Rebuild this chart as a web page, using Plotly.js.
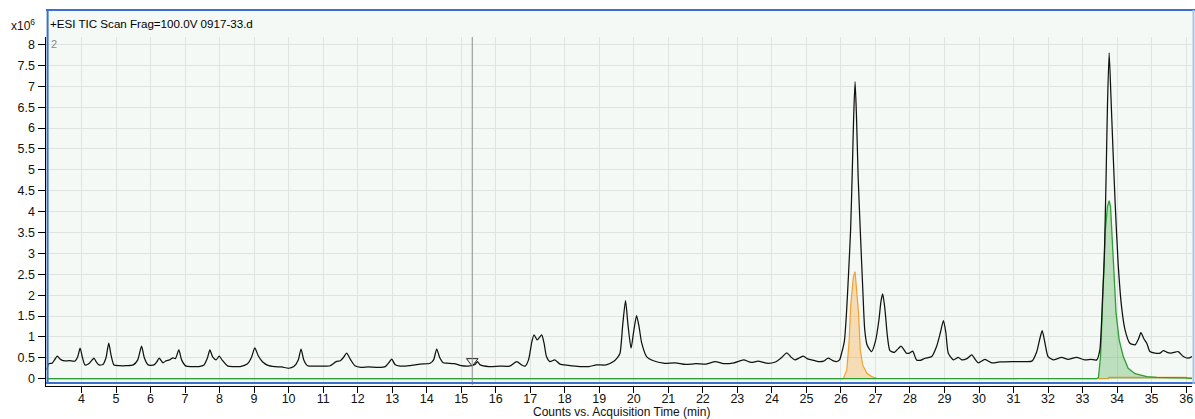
<!DOCTYPE html>
<html>
<head>
<meta charset="utf-8">
<script src="https://cdn.plot.ly/plotly-3.0.1.min.js"></script>
<style>html,body{margin:0;padding:0;background:#fff;}#chart{width:1195px;height:419px;}</style>
</head>
<body>
<div id="chart"></div>
<script>
// ---- data (counts in units of 10^6) ----
const ticTime = [3.00,3.05,3.15,3.22,3.30,3.38,3.47,3.65,3.81,3.89,3.96,4.03,4.10,4.20,4.30,4.36,4.43,4.51,4.62,4.71,4.79,4.86,4.94,5.10,5.30,5.50,5.63,5.74,5.82,5.93,6.10,6.18,6.25,6.36,6.45,6.55,6.65,6.72,6.82,6.90,7.03,7.20,7.40,7.55,7.65,7.72,7.80,7.90,7.99,8.08,8.24,8.40,8.60,8.80,8.92,9.02,9.12,9.25,9.40,9.60,9.80,10.00,10.15,10.28,10.36,10.44,10.55,10.80,11.00,11.20,11.38,11.50,11.60,11.68,11.80,11.92,12.10,12.30,12.60,12.80,12.92,12.99,13.08,13.23,13.50,13.81,14.10,14.20,14.29,14.38,14.48,14.58,14.80,15.00,15.20,15.40,15.47,15.55,15.80,16.12,16.40,16.61,16.75,16.85,16.95,17.05,17.11,17.20,17.33,17.40,17.47,17.57,17.71,17.86,18.10,18.44,18.70,18.92,19.20,19.41,19.52,19.60,19.68,19.76,19.83,19.92,20.00,20.08,20.15,20.23,20.37,20.57,20.86,21.20,21.50,21.80,22.10,22.36,22.60,22.90,23.18,23.40,23.60,23.85,24.10,24.30,24.43,24.55,24.67,24.80,24.91,25.02,25.15,25.34,25.50,25.63,25.75,25.87,25.96,26.02,26.10,26.16,26.22,26.28,26.33,26.37,26.41,26.45,26.50,26.56,26.63,26.69,26.76,26.89,27.00,27.10,27.16,27.21,27.27,27.35,27.42,27.55,27.66,27.74,27.82,27.90,28.00,28.08,28.19,28.30,28.44,28.63,28.77,28.88,28.97,29.04,29.11,29.26,29.40,29.50,29.65,29.79,29.90,29.98,30.17,30.37,30.60,30.95,31.30,31.53,31.67,31.76,31.83,31.90,32.00,32.15,32.39,32.58,32.82,33.06,33.25,33.41,33.50,33.58,33.63,33.68,33.72,33.77,33.82,33.88,33.94,34.03,34.13,34.23,34.37,34.52,34.62,34.69,34.78,34.86,34.95,35.10,35.24,35.34,35.45,35.53,35.65,35.77,35.92,36.06,36.17];
const ticCounts = [0.22,0.36,0.37,0.45,0.54,0.47,0.43,0.43,0.42,0.52,0.73,0.50,0.33,0.35,0.44,0.49,0.40,0.33,0.34,0.50,0.85,0.55,0.33,0.31,0.31,0.33,0.45,0.78,0.50,0.33,0.33,0.40,0.49,0.38,0.43,0.45,0.50,0.48,0.69,0.45,0.30,0.29,0.29,0.33,0.50,0.69,0.52,0.45,0.54,0.44,0.30,0.29,0.29,0.35,0.50,0.74,0.55,0.40,0.32,0.29,0.28,0.25,0.29,0.45,0.71,0.45,0.31,0.30,0.30,0.31,0.41,0.43,0.52,0.61,0.45,0.31,0.27,0.28,0.27,0.29,0.40,0.47,0.34,0.30,0.31,0.35,0.37,0.45,0.71,0.50,0.38,0.37,0.36,0.31,0.30,0.34,0.41,0.33,0.29,0.30,0.30,0.41,0.33,0.30,0.45,0.90,1.05,0.93,1.05,0.85,0.53,0.41,0.45,0.35,0.32,0.29,0.29,0.33,0.33,0.41,0.50,0.61,1.30,1.87,1.30,0.73,1.15,1.51,1.25,0.85,0.53,0.43,0.37,0.38,0.34,0.36,0.35,0.41,0.36,0.38,0.45,0.39,0.42,0.37,0.40,0.52,0.62,0.52,0.45,0.50,0.54,0.48,0.45,0.41,0.42,0.49,0.44,0.41,0.45,0.61,0.90,1.56,2.50,3.56,5.00,6.30,7.11,6.30,4.80,3.56,2.20,1.17,0.80,0.65,0.90,1.40,1.85,2.03,1.70,0.99,0.67,0.63,0.72,0.78,0.70,0.61,0.62,0.66,0.45,0.44,0.49,0.53,0.77,1.10,1.39,1.10,0.61,0.45,0.51,0.45,0.48,0.57,0.45,0.38,0.46,0.38,0.40,0.41,0.41,0.42,0.64,0.95,1.15,0.90,0.53,0.45,0.51,0.46,0.51,0.45,0.46,0.45,0.69,1.96,2.92,4.76,6.50,7.80,6.80,5.50,4.28,2.76,1.72,1.17,0.85,0.81,0.95,1.10,0.95,0.85,0.65,0.61,0.61,0.67,0.63,0.61,0.63,0.65,0.53,0.49,0.53];

const orangeTime = [3.00,26.07,26.17,26.24,26.28,26.36,26.41,26.46,26.51,26.56,26.63,26.75,26.89,27.04,33.75,33.76,36.00,36.01,36.17];
const orangeCounts = [0,0,0.21,0.93,1.72,2.44,2.56,2.10,1.57,0.69,0.33,0.13,0.05,0.01,0,0.03,0.03,0,0];

const greenTime = [3.00,33.40,33.46,33.52,33.59,33.66,33.72,33.77,33.81,33.89,33.97,34.06,34.18,34.32,34.52,34.86,35.15,36.02,36.17];
const greenCounts = [0,0,0.03,0.53,2.04,3.56,4.12,4.26,4.12,2.76,1.57,0.93,0.53,0.25,0.12,0.05,0.03,0.02,0.01];

const cursorTime = [15.32];
const cursorCounts = [0.42];

const xTickVals = [4,5,6,7,8,9,10,11,12,13,14,15,16,17,18,19,20,21,22,23,24,25,26,27,28,29,30,31,32,33,34,35,36];
const yTickVals = [0,0.5,1,1.5,2,2.5,3,3.5,4,4.5,5,5.5,6,6.5,7,7.5,8];
const yTickText = ['0','0.5','1','1.5','2','2.5','3','3.5','4','4.5','5','5.5','6','6.5','7','7.5','8'];

const titleText = '+ESI TIC Scan Frag=100.0V 0917-33.d';
const xTitleText = 'Counts vs. Acquisition Time (min)';

// ---- layout geometry ----
const W = 1195, H = 419;
const mL = 46, mR = 3, mT = 37, mB = 33;
const pw = W - mL - mR, ph = H - mT - mB;
const px = p => (p - mL) / pw;            // pixel x -> paper
const py = p => (H - mB - p) / ph;        // pixel y -> paper

const FONT = 'Liberation Sans, Arial, sans-serif';
const BG = '#f4f9f5';
const BLUE = '#3a6fd0';
const GRID = '#e0e4e1';

const traces = [
  {x: orangeTime, y: orangeCounts, type: 'scatter', mode: 'lines', fill: 'tozeroy',
   fillcolor: 'rgba(245,165,60,0.35)', line: {color: '#f5a030', width: 1.2}, hoverinfo: 'skip'},
  {x: greenTime, y: greenCounts, type: 'scatter', mode: 'lines', fill: 'tozeroy',
   fillcolor: 'rgba(70,170,70,0.32)', line: {color: '#2f9d35', width: 1.3}, hoverinfo: 'skip'},
  {x: ticTime, y: ticCounts, type: 'scatter', mode: 'lines',
   line: {color: '#111111', width: 1.25, shape: 'spline', smoothing: 0.6}, hoverinfo: 'skip'},
  {x: cursorTime, y: cursorCounts, type: 'scatter', mode: 'markers',
   marker: {symbol: 'triangle-down-open', size: 10, color: '#222', line: {width: 1, color: '#222'}}, hoverinfo: 'skip'}
];

const layout = {
  width: W, height: H,
  margin: {l: mL, r: mR, t: mT, b: mB, pad: 0},
  paper_bgcolor: '#ffffff',
  plot_bgcolor: BG,
  showlegend: false,
  font: {family: FONT, size: 12, color: '#111'},
  title: {text: titleText, x: 50 / W, xref: 'container', xanchor: 'left',
          y: 1 - 24 / H, yref: 'container', yanchor: 'middle',
          font: {family: FONT, size: 11.6, color: '#000'}},
  xaxis: {
    range: [2.972, 36.17], tickmode: 'array', tickvals: xTickVals,
    ticks: 'outside', ticklen: 6, tickcolor: '#000', tickwidth: 1,
    ticklabelstandoff: -5,
    showline: true, linecolor: '#000', linewidth: 1,
    showgrid: true, gridcolor: GRID, gridwidth: 1, zeroline: false,
    tickfont: {family: FONT, size: 12.5, color: '#111'},
    fixedrange: true, automargin: false
  },
  yaxis: {
    range: [-0.175, 8.18], tickmode: 'array', tickvals: yTickVals, ticktext: yTickText,
    ticks: 'outside', ticklen: 7, tickcolor: '#000', tickwidth: 1,
    showline: true, linecolor: '#000', linewidth: 1.5,
    showgrid: true, gridcolor: GRID, gridwidth: 1, zeroline: false,
    tickfont: {family: FONT, size: 12.5, color: '#111'},
    fixedrange: true, automargin: false
  },
  shapes: [
    // frame background (including title band)
    {type: 'rect', xref: 'paper', yref: 'paper', x0: px(47), x1: px(1194), y0: py(384), y1: py(10),
     fillcolor: BG, line: {width: 0}, layer: 'below'},
    // white gap between blue frame and axis line
    {type: 'rect', xref: 'paper', yref: 'paper', x0: px(48), x1: 1, y0: py(385.4), y1: py(384),
     fillcolor: '#ffffff', line: {width: 0}, layer: 'above'},
    // cursor line
    {type: 'line', xref: 'x', yref: 'paper', x0: cursorTime[0], x1: cursorTime[0], y0: py(385), y1: 1,
     line: {color: '#8c8c8c', width: 1}, layer: 'above'},
    // blue frame
    {type: 'line', xref: 'paper', yref: 'paper', x0: px(46), x1: px(1195), y0: py(10), y1: py(10),
     line: {color: BLUE, width: 2}, layer: 'above'},
    {type: 'line', xref: 'paper', yref: 'paper', x0: px(47.6), x1: px(47.6), y0: py(384), y1: py(10),
     line: {color: BLUE, width: 2}, layer: 'above'},
    {type: 'line', xref: 'paper', yref: 'paper', x0: px(46), x1: px(1195), y0: py(383), y1: py(383),
     line: {color: BLUE, width: 2}, layer: 'above'},
    {type: 'line', xref: 'paper', yref: 'paper', x0: px(1193.5), x1: px(1193.5), y0: py(384), y1: py(10),
     line: {color: '#a9c1ea', width: 2}, layer: 'above'}
  ],
  annotations: [
    {text: 'x10<sup>6</sup>', xref: 'paper', yref: 'paper', x: px(9), y: py(25),
     xanchor: 'left', yanchor: 'middle', showarrow: false, font: {family: FONT, size: 12, color: '#111'}},
    {text: '2', xref: 'paper', yref: 'paper', x: px(49), y: py(44),
     xanchor: 'left', yanchor: 'middle', showarrow: false, font: {family: FONT, size: 11, color: '#8a8a8a'}},
    {text: xTitleText, xref: 'paper', yref: 'paper', x: px(621.5), y: py(411.5),
     xanchor: 'center', yanchor: 'middle', showarrow: false, font: {family: FONT, size: 12, color: '#111'}}
  ]
};

Plotly.newPlot('chart', traces, layout, {displayModeBar: false, staticPlot: true});
</script>
</body>
</html>
